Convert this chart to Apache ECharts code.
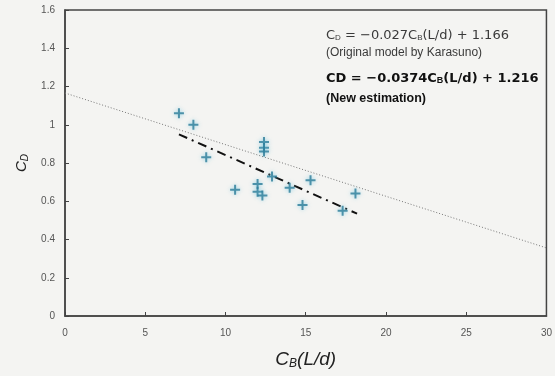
<!DOCTYPE html>
<html>
<head>
<meta charset="utf-8">
<script src="https://cdn.jsdelivr.net/npm/echarts@6/dist/echarts.min.js"></script>
<style>
  html, body { margin: 0; padding: 0; background: #f4f4f2; }
  #chart { width: 555px; height: 376px; }
</style>
</head>
<body>
<div id="chart"></div>
<script>
// measured points, C_B(L/d) vs C_D
const cbLd = [7.1, 8.0, 8.8, 10.6, 12.0, 12.0, 12.3, 12.4, 12.4, 12.4, 12.9, 14.0, 14.8, 15.3, 17.3, 18.1];
const cd = [1.06, 1.0, 0.83, 0.66, 0.69, 0.65, 0.63, 0.91, 0.88, 0.86, 0.73, 0.67, 0.58, 0.71, 0.55, 0.64];

// fitted lines (end points)
const karasunoX = [0, 30];
const karasunoY = [1.166, 0.356];
const newFitX = [7.1, 18.2];
const newFitY = [0.95, 0.535];

const xTicks = [0, 5, 10, 15, 20, 25, 30];
const yTicks = [0, 0.2, 0.4, 0.6, 0.8, 1, 1.2, 1.4, 1.6];

const chart = echarts.init(document.getElementById("chart"));

const labelColor = "#555";
const frame = "#444";
const plus = "path://M4,0h2v4h4v2h-4v4h-2v-4h-4v-2h4z";

function eqText(top, text, font, fill, lineSub) {
  return {
    type: "text",
    left: 326,
    top: top,
    style: {
      text: text,
      fill: fill,
      font: font,
      rich: { s: Object.assign({ fill: fill, verticalAlign: "bottom", padding: [5, 0, 0, 0] }, lineSub) },
    },
  };
}

chart.setOption({
  backgroundColor: "#f4f4f2",
  animation: false,
  grid: { left: 65, right: 8, top: 10, bottom: 60, show: true, borderColor: frame, borderWidth: 1.5 },
  xAxis: {
    type: "value",
    min: xTicks[0],
    max: xTicks[xTicks.length - 1],
    interval: 5,
    name: "C{s|B}(L/d)",
    nameLocation: "middle",
    nameGap: 33,
    nameTextStyle: {
      color: "#222",
      fontFamily: "Liberation Sans",
      fontStyle: "italic",
      fontSize: 19,
      rich: { s: { fontSize: 12, fontStyle: "italic", color: "#222", verticalAlign: "bottom", padding: [9, 0, 0, 0] } },
    },
    axisLine: { lineStyle: { color: frame, width: 1.5 } },
    axisTick: { inside: true, length: 4, lineStyle: { color: frame } },
    axisLabel: { color: labelColor, fontFamily: "Liberation Sans", fontSize: 10, margin: 12 },
    splitLine: { show: false },
  },
  yAxis: {
    type: "value",
    min: yTicks[0],
    max: yTicks[yTicks.length - 1],
    interval: 0.2,
    name: "C{s|D}",
    nameLocation: "middle",
    nameGap: 30,
    nameRotate: 90,
    nameTextStyle: {
      color: "#222",
      fontFamily: "Liberation Sans",
      fontStyle: "italic",
      fontSize: 15,
      rich: { s: { fontSize: 10, fontStyle: "italic", color: "#222", verticalAlign: "bottom", padding: [7, 0, 0, 0] } },
    },
    axisLine: { show: true, lineStyle: { color: frame, width: 1.5 } },
    axisTick: { show: true, inside: true, length: 4, lineStyle: { color: frame } },
    axisLabel: { color: labelColor, fontFamily: "Liberation Sans", fontSize: 10, margin: 10 },
    splitLine: { show: false },
  },
  series: [
    {
      type: "line",
      data: karasunoX.map((x, i) => [x, karasunoY[i]]),
      symbol: "none",
      lineStyle: { color: "#777", width: 1, type: [1, 2] },
    },
    {
      type: "line",
      data: newFitX.map((x, i) => [x, newFitY[i]]),
      symbol: "none",
      lineStyle: { color: "#111", width: 2, type: [9, 5, 2, 5] },
    },
    {
      type: "scatter",
      data: cbLd.map((x, i) => [x, cd[i]]),
      symbol: plus,
      symbolSize: 10,
      itemStyle: { color: "#2a7c99", shadowBlur: 4, shadowColor: "rgba(120,200,225,0.9)" },
      z: 5,
    },
  ],
  graphic: [
    eqText(29, "C{s|D} = −0.027C{s|B}(L/d) + 1.166", "13px 'DejaVu Sans'", "#3a3a3a", { fontSize: 8 }),
    eqText(47, "(Original model by Karasuno)", "12px 'Liberation Sans'", "#3a3a3a", {}),
    eqText(72, "CD = −0.0374C{s|B}(L/d) + 1.216", "bold 13px 'DejaVu Sans'", "#111", { fontSize: 9, fontWeight: "bold" }),
    eqText(92, "(New estimation)", "bold 12.5px 'Liberation Sans'", "#111", {}),
  ],
});
</script>
</body>
</html>
